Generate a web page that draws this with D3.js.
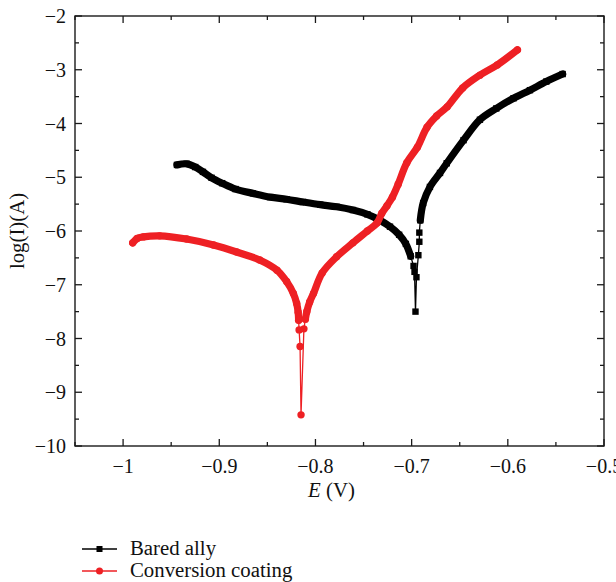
<!DOCTYPE html>
<html>
<head>
<meta charset="utf-8">
<script src="https://cdn.jsdelivr.net/npm/d3@7"></script>
<style>
  body { margin: 0; background: #fff; }
  text { font-family: "Liberation Serif", "Times New Roman", serif; fill: #111; }
</style>
</head>
<body>
<svg id="chart" width="616" height="582"></svg>
<script>
// Potentiodynamic polarization curves: potential E (V) vs log of current (A)

// Bare alloy
const bareE = [-0.944, -0.934, -0.925, -0.917, -0.908, -0.897, -0.883, -0.865, -0.847, -0.830,
  -0.813, -0.795, -0.778, -0.761, -0.746, -0.733, -0.7225, -0.713, -0.706, -0.701,
  -0.698, -0.697, -0.696, -0.695, -0.693, -0.692, -0.692, -0.691, -0.688, -0.681,
  -0.6705, -0.6635, -0.646, -0.629, -0.612, -0.594, -0.577, -0.560, -0.543];
const bareLogI = [-4.77, -4.75, -4.81, -4.90, -5.01, -5.11, -5.22, -5.30, -5.37, -5.41,
  -5.46, -5.51, -5.55, -5.61, -5.69, -5.80, -5.92, -6.07, -6.24, -6.47,
  -6.65, -6.76, -7.50, -6.86, -6.45, -6.20, -6.03, -5.80, -5.48, -5.18,
  -4.92, -4.74, -4.31, -3.93, -3.72, -3.53, -3.38, -3.22, -3.08];

// Conversion-coated alloy
const coatE = [-0.990, -0.9855, -0.979, -0.962, -0.934, -0.906, -0.882, -0.858, -0.840, -0.830,
  -0.823, -0.8195, -0.818, -0.8175, -0.817, -0.816, -0.815, -0.812, -0.8105, -0.809,
  -0.806, -0.802, -0.793, -0.778, -0.761, -0.746, -0.736, -0.731, -0.7256, -0.720,
  -0.714, -0.705, -0.694, -0.684, -0.674, -0.663, -0.647, -0.629, -0.611, -0.590];
const coatLogI = [-6.22, -6.14, -6.11, -6.09, -6.15, -6.26, -6.39, -6.54, -6.73, -6.94,
  -7.16, -7.35, -7.51, -7.66, -7.84, -8.15, -9.42, -7.82, -7.64, -7.50,
  -7.32, -7.16, -6.78, -6.48, -6.22, -6.00, -5.85, -5.67, -5.53, -5.37,
  -5.13, -4.73, -4.44, -4.07, -3.86, -3.69, -3.34, -3.10, -2.91, -2.63];

const seriesNames = ["Bared ally", "Conversion coating"];
const seriesColors = ["#000000", "#ee2024"];

const xTicks = [-1, -0.9, -0.8, -0.7, -0.6, -0.5];
const xTickLabels = ["\u22121", "\u22120.9", "\u22120.8", "\u22120.7", "\u22120.6", "\u22120.5"];
const xMinorTicks = [-1.05, -0.95, -0.85, -0.75, -0.65, -0.55];
const yTicks = [-2, -3, -4, -5, -6, -7, -8, -9, -10];
const yTickLabels = ["\u22122", "\u22123", "\u22124", "\u22125", "\u22126", "\u22127", "\u22128", "\u22129", "\u221210"];
const yMinorTicks = [-2.5, -3.5, -4.5, -5.5, -6.5, -7.5, -8.5, -9.5];

// Index ranges of each branch drawn as a dense (thick) trace; the spike
// toward the corrosion potential is left as separate markers.
const bareDense = [[0, 19], [27, 38]];
const coatDense = [[0, 13], [18, 39]];

const svg = d3.select("#chart");
const plotL = 75, plotR = 604, plotT = 16, plotB = 446;

const x = d3.scaleLinear().domain([-1.05, -0.5]).range([plotL, plotR]);
const y = d3.scaleLinear().domain([-10, -2]).range([plotB, plotT]);

const axisColor = "#1a1a1a";
const majorLen = 7, minorLen = 4;
const fontSize = 20;
const titleSize = 20.8;

// frame
const g = svg.append("g");
g.append("rect").attr("x", plotL).attr("y", plotT).attr("width", plotR - plotL).attr("height", plotB - plotT)
  .attr("fill", "none").attr("stroke", axisColor).attr("stroke-width", 1.4);

// ticks (inward) on all four sides
function xTickMarks(vals, len) {
  vals.forEach(v => {
    g.append("line").attr("x1", x(v)).attr("x2", x(v)).attr("y1", plotB).attr("y2", plotB - len)
      .attr("stroke", axisColor).attr("stroke-width", 1.3);
    g.append("line").attr("x1", x(v)).attr("x2", x(v)).attr("y1", plotT).attr("y2", plotT + len)
      .attr("stroke", axisColor).attr("stroke-width", 1.3);
  });
}
function yTickMarks(vals, len) {
  vals.forEach(v => {
    g.append("line").attr("x1", plotL).attr("x2", plotL + len).attr("y1", y(v)).attr("y2", y(v))
      .attr("stroke", axisColor).attr("stroke-width", 1.3);
    g.append("line").attr("x1", plotR).attr("x2", plotR - len).attr("y1", y(v)).attr("y2", y(v))
      .attr("stroke", axisColor).attr("stroke-width", 1.3);
  });
}
xTickMarks(xTicks, majorLen);
xTickMarks(xMinorTicks, minorLen);
yTickMarks(yTicks, majorLen);
yTickMarks(yMinorTicks, minorLen);

// tick labels
xTicks.forEach((v, i) => {
  g.append("text").attr("x", x(v)).attr("y", plotB + 27).attr("text-anchor", "middle")
    .attr("font-size", fontSize).text(xTickLabels[i]);
});
yTicks.forEach((v, i) => {
  g.append("text").attr("x", plotL - 9).attr("y", y(v)).attr("dy", "0.35em").attr("text-anchor", "end")
    .attr("font-size", fontSize).text(yTickLabels[i]);
});

// axis titles
const xt = g.append("text").attr("x", (plotL + plotR) / 2 - 8).attr("y", 497)
  .attr("text-anchor", "middle").attr("font-size", titleSize);
xt.append("tspan").attr("font-style", "italic").text("E");
xt.append("tspan").text(" (V)");

g.append("text").attr("transform", `translate(24, ${(plotT + plotB) / 2}) rotate(-90)`)
  .attr("text-anchor", "middle").attr("font-size", titleSize).text("log(I)(A)");

// curves
const plot = svg.append("g");
const line = d3.line().x(d => x(d[0])).y(d => y(d[1]));
const smoothLine = d3.line().x(d => x(d[0])).y(d => y(d[1])).curve(d3.curveCatmullRom.alpha(0.5));

function drawSeries(E, L, dense, color, shape) {
  const pts = E.map((e, i) => [e, L[i]]);
  // connecting line through every point
  plot.append("path").attr("d", line(pts)).attr("fill", "none")
    .attr("stroke", color).attr("stroke-width", 1.3);
  // densely sampled parts of each branch
  dense.forEach(([a, b]) => {
    plot.append("path").attr("d", smoothLine(pts.slice(a, b + 1))).attr("fill", "none")
      .attr("stroke", color).attr("stroke-width", 7.2)
      .attr("stroke-linecap", "round").attr("stroke-linejoin", "round");
  });
  // markers
  if (shape === "square") {
    plot.selectAll(null).data(pts).enter().append("rect")
      .attr("x", d => x(d[0]) - 3.2).attr("y", d => y(d[1]) - 3.2)
      .attr("width", 6.4).attr("height", 6.4).attr("fill", color);
  } else {
    plot.selectAll(null).data(pts).enter().append("circle")
      .attr("cx", d => x(d[0])).attr("cy", d => y(d[1])).attr("r", 3.7).attr("fill", color);
  }
}
drawSeries(bareE, bareLogI, bareDense, seriesColors[0], "square");
drawSeries(coatE, coatLogI, coatDense, seriesColors[1], "circle");

// legend
const legend = svg.append("g");
const legendY = [549, 571];
seriesNames.forEach((name, i) => {
  const ly = legendY[i];
  legend.append("line").attr("x1", 82).attr("x2", 117).attr("y1", ly).attr("y2", ly)
    .attr("stroke", seriesColors[i]).attr("stroke-width", 1.4);
  if (i === 0) {
    legend.append("rect").attr("x", 99.5 - 3).attr("y", ly - 3).attr("width", 6).attr("height", 6)
      .attr("fill", seriesColors[i]);
  } else {
    legend.append("circle").attr("cx", 99.5).attr("cy", ly).attr("r", 3.5).attr("fill", seriesColors[i]);
  }
  legend.append("text").attr("x", 130).attr("y", ly + 6).attr("font-size", titleSize).text(name);
});
</script>
</body>
</html>
